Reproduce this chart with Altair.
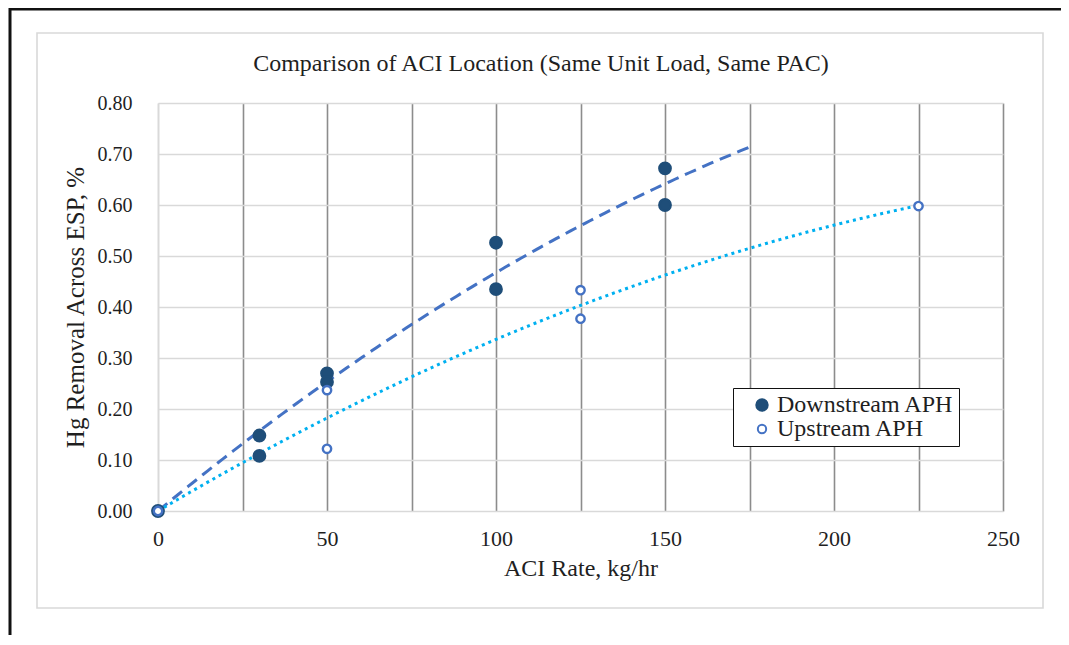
import altair as alt
import numpy as np
import pandas as pd

# ---- data ----
series_names = ["Downstream APH", "Upstream APH"]
down_x = [0, 30, 30, 50, 50, 100, 100, 150, 150]
down_y = [0.000, 0.148, 0.108, 0.270, 0.253, 0.526, 0.435, 0.672, 0.600]
up_x = [0, 50, 50, 125, 125, 225]
up_y = [0.000, 0.237, 0.122, 0.433, 0.377, 0.598]
trend_end = [175, 225]          # Excel trendline extent (forecast forward)
x_ticks = list(range(0, 251, 25))
y_ticks = [round(i * 0.1, 1) for i in range(9)]
title_text = ["Comparison of ACI Location (Same Unit Load, Same PAC)"]

FONT = "Liberation Serif"
TXT = "#1f1f1f"

# ---- points table ----
pts = pd.DataFrame({
    "rate": down_x + up_x,
    "removal": down_y + up_y,
    "series": [series_names[0]] * len(down_x) + [series_names[1]] * len(up_x),
})

# ---- polynomial (order 2, intercept 0) trendlines fitted from the data ----
def fit_curve(xs, ys, end, name):
    xs = np.asarray(xs, float)
    ys = np.asarray(ys, float)
    X = np.column_stack([xs, xs ** 2])
    coef, *_ = np.linalg.lstsq(X, ys, rcond=None)
    gx = np.linspace(0, end, 120)
    return pd.DataFrame({"rate": gx, "removal": coef[0] * gx + coef[1] * gx ** 2, "series": name})

curves = pd.concat([
    fit_curve(down_x, down_y, trend_end[0], series_names[0]),
    fit_curve(up_x, up_y, trend_end[1], series_names[1]),
])

xscale = alt.Scale(domain=[0, 250], nice=False, zero=False)
yscale = alt.Scale(domain=[0, 0.8], nice=False)

xenc = alt.X("rate:Q", scale=xscale, axis=alt.Axis(
    values=x_ticks,
    labelExpr="datum.value % 50 === 0 ? datum.label : ''",
    labelFlush=False, labelOverlap=False,
    grid=True,
    gridColor={"condition": {"test": "datum.value === 0", "value": "#d9d9d9"}, "value": "#8c8c8c"},
    gridWidth=1.6,
    domain=False, ticks=False,
    labelFont=FONT, labelFontSize=22, labelColor=TXT, labelPadding=17,
    title="ACI Rate, kg/hr", titleFont=FONT, titleFontSize=24, titleFontWeight="normal",
    titleColor=TXT, titlePadding=7,
))
yenc = alt.Y("removal:Q", scale=yscale, axis=alt.Axis(
    values=y_ticks, format=".2f", labelFlush=False,
    grid=True, gridColor="#d9d9d9", gridWidth=1.6,
    domain=True, domainColor="#d9d9d9", domainWidth=1.6, ticks=False,
    labelFont=FONT, labelFontSize=20, labelColor=TXT, labelPadding=26,
    title="Hg Removal Across ESP, %", titleFont=FONT, titleFontSize=25,
    titleFontWeight="normal", titleColor=TXT, titlePadding=9,
))

# ---- decorations: outer frame and chart-area border ----
deco = pd.DataFrame({"k": [0]})
border = alt.Chart(deco).mark_rect(fillOpacity=0, stroke="#d9d9d9", strokeWidth=1.6).encode(
    x=alt.value(-121), x2=alt.value(885), y=alt.value(-70), y2=alt.value(505))
frame_top = alt.Chart(deco).mark_rule(color="#111111", strokeWidth=3).encode(
    x=alt.value(-149), x2=alt.value(910), y=alt.value(-94))
frame_left = alt.Chart(deco).mark_rule(color="#111111", strokeWidth=3).encode(
    x=alt.value(-148), y=alt.value(-95), y2=alt.value(545))

# ---- chart title as text ----
title = alt.Chart(pd.DataFrame({"t": title_text})).mark_text(
    font=FONT, fontSize=24, color=TXT, align="center", baseline="alphabetic"
).encode(text="t:N", x=alt.value(383), y=alt.value(-32))

# ---- trendlines ----
line_down = alt.Chart(curves).transform_filter(
    alt.datum.series == series_names[0]
).mark_line(color="#4472c4", strokeWidth=3, strokeDash=[12, 7]).encode(
    x=xenc, y=yenc, order="rate:Q")
line_up = alt.Chart(curves).transform_filter(
    alt.datum.series == series_names[1]
).mark_line(color="#00b0f0", strokeWidth=3, strokeDash=[3, 4]).encode(
    x=alt.X("rate:Q", scale=xscale), y=alt.Y("removal:Q", scale=yscale), order="rate:Q")

# ---- markers with legend ----
leg = alt.Legend(
    title=None, orient="none", legendX=575, legendY=285,
    strokeColor="#111111", fillColor="white", padding=5,
    labelFont=FONT, labelFontSize=24, labelColor=TXT, labelLimit=400,
    symbolType="circle", symbolStrokeWidth=2, rowPadding=0, symbolOffset=12,
    labelOffset=3,
)
points = alt.Chart(pts).mark_point(opacity=1, strokeWidth=2.4, shape="circle").encode(
    x=alt.X("rate:Q", scale=xscale),
    y=alt.Y("removal:Q", scale=yscale),
    color=alt.Color("series:N", scale=alt.Scale(domain=series_names, range=["#1f4e79", "#4472c4"]), legend=leg),
    fill=alt.Fill("series:N", scale=alt.Scale(domain=series_names, range=["#1f4e79", "#ffffff"]), legend=leg),
    size=alt.Size("series:N", scale=alt.Scale(domain=series_names, range=[130, 70]), legend=leg),
)

chart = alt.layer(border, frame_top, frame_left, line_down, line_up, points, title).properties(
    width=845, height=408,
    autosize=alt.AutoSizeParams(type="none"),
    padding={"left": 150, "top": 95, "right": 58, "bottom": 124},
    background="white",
).configure(font=FONT).configure_view(stroke=None).configure_legend(
    labelFont=FONT, labelFontSize=24
).configure_axis(labelFont=FONT, titleFont=FONT)

chart.save("out.html", embed_options={"renderer": "svg", "actions": False})
